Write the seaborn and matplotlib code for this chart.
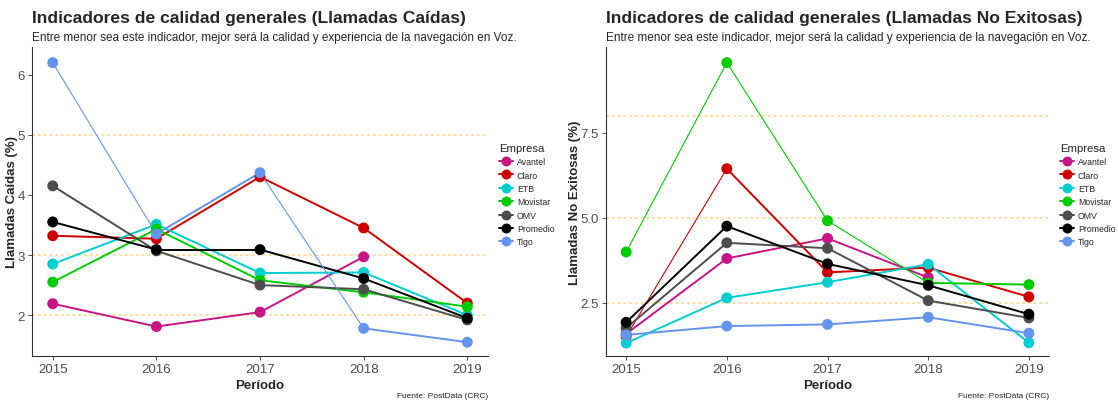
import numpy as np
import pandas as pd
import matplotlib
matplotlib.use("Agg")
import matplotlib.pyplot as plt
from matplotlib.lines import Line2D
import seaborn as sns

sns.set_theme(style="white")
plt.rcParams["font.family"] = ["Liberation Sans", "DejaVu Sans"]

# ── Datos ──────────────────────────────────────────────────────────────────────
PERIODOS = [2015, 2016, 2017, 2018, 2019]
EMPRESAS = ["Avantel", "Claro", "ETB", "Movistar", "OMV", "Promedio", "Tigo"]

# Llamadas caídas (%)
caidas_avantel  = [2.19, 1.81, 2.05, 2.97, np.nan]
caidas_claro    = [3.32, 3.27, 4.30, 3.45, 2.20]
caidas_etb      = [2.85, 3.51, 2.70, 2.71, 2.00]
caidas_movistar = [2.55, 3.43, 2.58, 2.38, 2.14]
caidas_omv      = [4.15, 3.07, 2.50, 2.43, 1.92]
caidas_promedio = [3.55, 3.09, 3.09, 2.61, 1.95]
caidas_tigo     = [6.20, 3.35, 4.37, 1.78, 1.55]

# Llamadas no exitosas (%)
noexit_avantel  = [1.58, 3.80, 4.39, 3.24, np.nan]
noexit_claro    = [1.50, 6.44, 3.39, 3.53, 2.67]
noexit_etb      = [1.31, 2.64, 3.10, 3.63, 1.32]
noexit_movistar = [3.99, 9.56, 4.91, 3.08, 3.03]
noexit_omv      = [1.75, 4.26, 4.10, 2.56, 2.05]
noexit_promedio = [1.92, 4.75, 3.64, 3.01, 2.16]
noexit_tigo     = [1.55, 1.81, 1.86, 2.07, 1.60]

COLORES = {
    "Avantel":  "#C71585",
    "Claro":    "#CD0000",
    "ETB":      "#00CED1",
    "Movistar": "#00CD00",
    "OMV":      "#4D4D4D",
    "Promedio": "#000000",
    "Tigo":     "#6495ED",
}


def a_largo(series):
    filas = []
    for emp, vals in zip(EMPRESAS, series):
        for p, v in zip(PERIODOS, vals):
            filas.append({"Empresa": emp, "Periodo": p, "valor": v})
    return pd.DataFrame(filas)


df_caidas = a_largo([caidas_avantel, caidas_claro, caidas_etb, caidas_movistar,
                     caidas_omv, caidas_promedio, caidas_tigo])
df_noexit = a_largo([noexit_avantel, noexit_claro, noexit_etb, noexit_movistar,
                     noexit_omv, noexit_promedio, noexit_tigo])

# tramos que se ven más finos en el original (empresa -> índices de tramo)
FINOS_CAIDAS = {"Tigo": [0, 2]}
FINOS_NOEXIT = {"Movistar": [0, 1, 2], "Claro": [0]}


def panel(ax, df, finos, hlines, yticks, ylabels, ylim, ylabel, ancho_px):
    for y in hlines:
        ax.axhline(y, color="#FFA500", alpha=0.4, lw=1.3, ls=(0, (1.6, 1.6)), zorder=1)
    for emp in EMPRESAS:
        sub = df[df["Empresa"] == emp].dropna().reset_index(drop=True)
        for i in range(len(sub) - 1):
            lw = 0.8 if i in finos.get(emp, []) else 1.4
            sns.lineplot(data=sub.iloc[i:i + 2], x="Periodo", y="valor", ax=ax,
                         color=COLORES[emp], lw=lw, estimator=None, legend=False,
                         zorder=2)
    sns.scatterplot(data=df.dropna(), x="Periodo", y="valor", hue="Empresa",
                    hue_order=EMPRESAS, palette=COLORES, s=62, edgecolor="none",
                    legend=False, ax=ax, zorder=3)
    ax.set_xlim(2014.8, 2019.2)
    ax.set_ylim(*ylim)
    ax.set_xticks(PERIODOS)
    ax.set_xticklabels([str(p) for p in PERIODOS])
    ax.set_yticks(yticks)
    ax.set_yticklabels(ylabels)
    ax.tick_params(axis="both", labelsize=9.5, colors="#4D4D4D", length=3,
                   width=0.7, direction="out", left=True, bottom=True, pad=2)
    for s in ["top", "right"]:
        ax.spines[s].set_visible(False)
    for s in ["left", "bottom"]:
        ax.spines[s].set_color("#333333")
        ax.spines[s].set_linewidth(0.8)
    ax.set_xlabel("Período", fontsize=9.5, fontweight="bold", labelpad=3)
    ax.set_ylabel(ylabel, fontsize=9.5, fontweight="bold", labelpad=0)
    handles = [Line2D([0], [0], color=COLORES[e], lw=1.4, marker="o", ms=7.2,
                      markeredgewidth=0) for e in EMPRESAS]
    leg = ax.legend(handles, EMPRESAS, title="Empresa", loc="upper left",
                    bbox_to_anchor=(1 + 11 / ancho_px, 0.69), frameon=False,
                    fontsize=6.3, title_fontsize=8.2, handlelength=1.6,
                    handletextpad=0.45, labelspacing=0.5, borderaxespad=0,
                    borderpad=0)
    leg._legend_box.align = "left"


fig = plt.figure(figsize=(11.18, 4.02), dpi=100)
W, H = 1118, 402
ax1 = fig.add_axes([32 / W, 1 - 357 / H, (488 - 32) / W, (357 - 48) / H])
ax2 = fig.add_axes([606 / W, 1 - 357 / H, (1049 - 606) / W, (357 - 48) / H])

panel(ax1, df_caidas, FINOS_CAIDAS, [2, 3, 5], [2, 3, 4, 5, 6],
      ["2", "3", "4", "5", "6"], (1.32, 6.46), "Llamadas Caídas (%)", 456)
panel(ax2, df_noexit, FINOS_NOEXIT, [2.5, 5.0, 8.0], [2.5, 5.0, 7.5],
      ["2.5", "5.0", "7.5"], (0.93, 10.02), "Llamadas No Exitosas (%)", 443)

for x0, x1, titulo in [(32, 488, "Indicadores de calidad generales (Llamadas Caídas)"),
                       (606, 1049, "Indicadores de calidad generales (Llamadas No Exitosas)")]:
    fig.text(x0 / W, 1 - 19 / H, titulo, fontsize=12.6, fontweight="bold",
             ha="left", va="center")
    fig.text(x0 / W, 1 - 38.5 / H,
             "Entre menor sea este indicador, mejor será la calidad y experiencia de la navegación en Voz.",
             fontsize=8.5, ha="left", va="center")
    fig.text(x1 / W, 1 - 397 / H, "Fuente: PostData (CRC)", fontsize=6,
             ha="right", va="center", color="#222222")

fig.savefig("out.png", dpi=100, facecolor="white")
